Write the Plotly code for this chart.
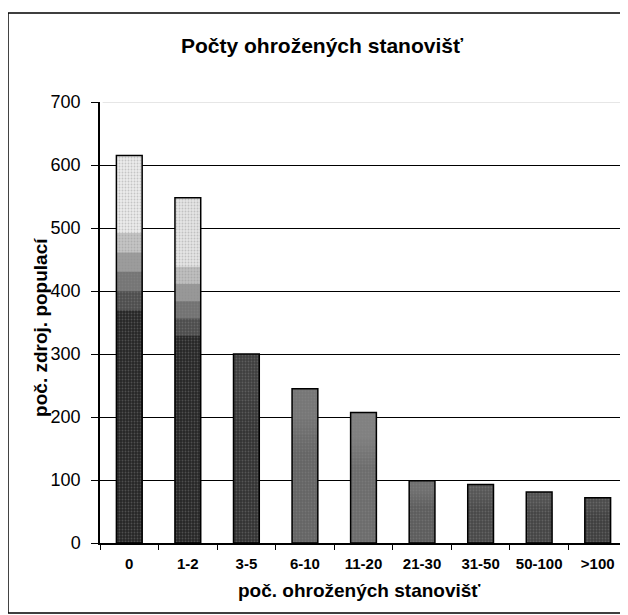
import plotly.graph_objects as go

categories = ["0", "1-2", "3-5", "6-10", "11-20", "21-30", "31-50", "50-100", ">100"]
values = [615, 548, 300, 245, 207, 99, 93, 81, 72]
y_ticks = [0, 100, 200, 300, 400, 500, 600, 700]

title_text = "Počty ohrožených stanovišť"
y_title = "poč. zdroj. populací"
x_title = "poč. ohrožených stanovišť"

FONT = "Liberation Sans, Arial, sans-serif"
BW = 0.44

# per-bar fill: top shade and bottom shade (grey level 0-255)
top_shade = [235, 228, 62, 118, 128, 110, 85, 80, 75]
bot_shade = [38, 38, 50, 100, 108, 92, 72, 68, 62]


def grey(level):
    level = int(round(level))
    return f"rgb({level},{level},{level})"


fig = go.Figure()

# vertical gradient built from overlaid layers at fractions of each bar height
fractions = [1.0, 0.80, 0.75, 0.70, 0.65, 0.60]
for i, f in enumerate(fractions):
    t = i / (len(fractions) - 1)
    cols = [grey(a + (b - a) * t) for a, b in zip(top_shade, bot_shade)]
    fig.add_trace(go.Bar(
        x=categories, y=[v * f for v in values], width=BW,
        marker=dict(color=cols, line=dict(width=0)),
        showlegend=False, hoverinfo="skip",
    ))
# speckle texture + outline
fig.add_trace(go.Bar(
    x=categories, y=values, width=BW,
    marker=dict(color="rgba(0,0,0,0)", line=dict(color="black", width=1.5),
                pattern=dict(shape=".", fgcolor="rgba(140,140,140,0.8)", size=3, solidity=0.3)),
    showlegend=False,
))

fig.update_layout(
    width=628, height=615,
    margin=dict(l=92, r=9, t=94, b=80),
    barmode="overlay",
    plot_bgcolor="white", paper_bgcolor="white",
    font=dict(family=FONT, color="black"),
    xaxis=dict(
        type="category", showline=True, linecolor="black", linewidth=1.5,
        ticks="outside", ticklen=5, tickcolor="black", tickson="boundaries",
        tickfont=dict(size=15, family=FONT, weight="bold"),
        ticklabelstandoff=6,
        showgrid=False, zeroline=False,
    ),
    yaxis=dict(
        range=[0, 700], tickvals=y_ticks, showline=True, linecolor="black", linewidth=1.5,
        ticks="outside", ticklen=7, tickcolor="black",
        tickfont=dict(size=18, family=FONT),
        ticklabelstandoff=7,
        showgrid=True, gridcolor="black", gridwidth=1, zeroline=False,
    ),
    annotations=[
        dict(text="<b>" + title_text + "</b>", xref="paper", yref="paper",
             x=0.423, y=1.129, xanchor="center", yanchor="middle",
             showarrow=False, font=dict(size=21, family=FONT)),
        dict(text="<b>" + y_title + "</b>", xref="paper", yref="paper",
             x=-0.112, y=0.49, textangle=-90, xanchor="center", yanchor="middle",
             showarrow=False, font=dict(size=19, family=FONT)),
        dict(text="<b>" + x_title + "</b>", xref="paper", yref="paper",
             x=0.493, y=-0.107, xanchor="center", yanchor="middle",
             showarrow=False, font=dict(size=19, family=FONT)),
    ],
    shapes=[
        dict(type="rect", xref="paper", yref="paper", x0=-0.1746, x1=1.03,
             y0=-0.159, y1=1.2018, line=dict(color="black", width=1.5), layer="below"),
        dict(type="line", xref="paper", yref="y", x0=0.005, x1=1, y0=700, y1=700,
             line=dict(color="#e6e6e6", width=2), layer="above"),
    ],
)

fig.write_html("out.html")
